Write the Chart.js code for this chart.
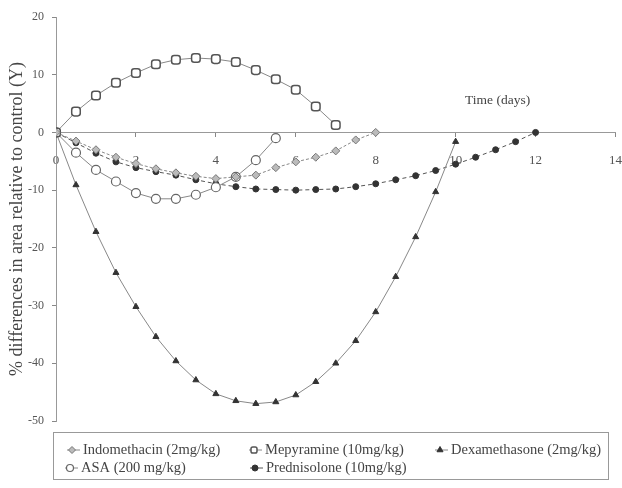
<!DOCTYPE html>
<html>
<head>
<meta charset="utf-8">
<script src="https://cdn.jsdelivr.net/npm/chart.js@4.4.0/dist/chart.umd.min.js"></script>
<style>
  html, body { margin: 0; padding: 0; background: #fff; }
  #wrap { width: 622px; height: 488px; }
</style>
</head>
<body>
<div id="wrap"><canvas id="chart" width="622" height="488"></canvas></div>
<script>
// Tempo (dias) de cada série
const daysIndo = [0, 0.5, 1, 1.5, 2, 2.5, 3, 3.5, 4, 4.5, 5, 5.5, 6, 6.5, 7, 7.5, 8];
const daysMepy = [0, 0.5, 1, 1.5, 2, 2.5, 3, 3.5, 4, 4.5, 5, 5.5, 6, 6.5, 7];
const daysDexa = [0, 0.5, 1, 1.5, 2, 2.5, 3, 3.5, 4, 4.5, 5, 5.5, 6, 6.5, 7, 7.5, 8, 8.5, 9, 9.5, 10];
const daysAsa = [0, 0.5, 1, 1.5, 2, 2.5, 3, 3.5, 4, 4.5, 5, 5.5];
const daysPred = [0, 0.5, 1, 1.5, 2, 2.5, 3, 3.5, 4, 4.5, 5, 5.5, 6, 6.5, 7, 7.5, 8, 8.5, 9, 9.5, 10, 10.5, 11, 11.5, 12];

// % de diferença na área relativa ao controle
const indomethacin = [0, -1.5, -3.0, -4.3, -5.4, -6.3, -7.0, -7.6, -8.0, -7.7, -7.4, -6.1, -5.1, -4.3, -3.2, -1.3, 0];
const mepyramine = [0, 3.6, 6.4, 8.6, 10.3, 11.8, 12.6, 12.9, 12.7, 12.2, 10.8, 9.2, 7.4, 4.5, 1.3];
const dexamethasone = [0, -9.1, -17.2, -24.3, -30.2, -35.4, -39.6, -42.9, -45.3, -46.5, -47.0, -46.7, -45.5, -43.2, -40.0, -36.1, -31.1, -25.0, -18.1, -10.3, -1.6];
const asa = [0, -3.5, -6.5, -8.5, -10.5, -11.5, -11.5, -10.8, -9.5, -7.7, -4.8, -1.0];
const prednisolone = [0, -1.8, -3.6, -5.1, -6.1, -6.8, -7.4, -8.2, -8.9, -9.4, -9.8, -9.9, -10.0, -9.9, -9.8, -9.4, -8.9, -8.2, -7.5, -6.6, -5.5, -4.3, -3.0, -1.6, 0];

const seriesLabels = ['Indomethacin (2mg/kg)', 'Mepyramine (10mg/kg)', 'Dexamethasone (2mg/kg)', 'ASA (200 mg/kg)', 'Prednisolone (10mg/kg)'];
const yTicks = [-50, -40, -30, -20, -10, 0, 10, 20];
const xTicks = [0, 2, 4, 6, 8, 10, 12, 14];

const serif = '"Liberation Serif", "DejaVu Serif", serif';

function toPoints(xs, ys) {
    return xs.map((x, i) => ({ x: x, y: ys[i] }));
}

// Legenda desenhada à mão, em grade como no original
const legendBox = {
    id: 'legendBox',
    afterDraw(chart) {
        const ctx = chart.ctx;
        ctx.save();
        ctx.strokeStyle = '#999';
        ctx.lineWidth = 1;
        ctx.strokeRect(53.5, 432.5, 555, 47);
        const slots = [[72, 450], [254, 450], [440, 450], [70, 468], [255, 468]];
        chart.data.datasets.forEach((ds, i) => {
            const [x, y] = slots[i];
            ctx.strokeStyle = ds.borderColor;
            ctx.lineWidth = 1;
            ctx.setLineDash([]);
            ctx.beginPath();
            ctx.moveTo(x - 5, y);
            ctx.lineTo(x + 8, y);
            ctx.stroke();
            ctx.fillStyle = ds.pointBackgroundColor;
            ctx.strokeStyle = ds.pointBorderColor;
            ctx.lineWidth = ds.pointBorderWidth;
            Chart.helpers.drawPoint(ctx, {
                pointStyle: ds.pointStyle,
                radius: Math.min(ds.pointRadius, 3.5),
                rotation: 0,
                borderWidth: ds.pointBorderWidth
            }, x, y);
            ctx.fillStyle = '#444';
            ctx.font = '14.5px ' + serif;
            ctx.textBaseline = 'middle';
            ctx.fillText(ds.label, x + 11, y);
        });
        ctx.restore();
    }
};

// Texto "Time (days)" sobre o eixo x
const axisNote = {
    id: 'axisNote',
    afterDraw(chart) {
        const ctx = chart.ctx;
        const xs = chart.scales.x;
        const ys = chart.scales.y;
        ctx.save();
        ctx.fillStyle = '#444';
        ctx.font = '13.5px ' + serif;
        ctx.textAlign = 'center';
        ctx.textBaseline = 'middle';
        ctx.fillText('Time (days)', xs.getPixelForValue(11.05), ys.getPixelForValue(5.6));
        ctx.restore();
    }
};

const ctx = document.getElementById('chart').getContext('2d');
new Chart(ctx, {
    type: 'line',
    data: {
        datasets: [
            {
                label: seriesLabels[0],
                data: toPoints(daysIndo, indomethacin),
                borderColor: '#888',
                borderWidth: 1,
                borderDash: [3, 2],
                pointStyle: 'rectRot',
                pointRadius: 4,
                pointBackgroundColor: '#bbb',
                pointBorderColor: '#777',
                pointBorderWidth: 1
            },
            {
                label: seriesLabels[1],
                data: toPoints(daysMepy, mepyramine),
                borderColor: '#888',
                borderWidth: 1,
                pointStyle: 'rectRounded',
                pointRadius: 5,
                pointBackgroundColor: '#fff',
                pointBorderColor: '#555',
                pointBorderWidth: 1.5
            },
            {
                label: seriesLabels[2],
                data: toPoints(daysDexa, dexamethasone),
                borderColor: '#888',
                borderWidth: 1,
                pointStyle: 'triangle',
                pointRadius: 3.5,
                pointBackgroundColor: '#333',
                pointBorderColor: '#333',
                pointBorderWidth: 1
            },
            {
                label: seriesLabels[3],
                data: toPoints(daysAsa, asa),
                borderColor: '#888',
                borderWidth: 1,
                pointStyle: 'circle',
                pointRadius: 4.5,
                pointBackgroundColor: '#fff',
                pointBorderColor: '#666',
                pointBorderWidth: 1.2
            },
            {
                label: seriesLabels[4],
                data: toPoints(daysPred, prednisolone),
                borderColor: '#555',
                borderWidth: 1,
                borderDash: [4, 3],
                pointStyle: 'circle',
                pointRadius: 3,
                pointBackgroundColor: '#333',
                pointBorderColor: '#333',
                pointBorderWidth: 1
            }
        ]
    },
    options: {
        responsive: false,
        animation: false,
        layout: { padding: { left: 0, right: 6, top: 17, bottom: 67 } },
        elements: { line: { tension: 0 } },
        plugins: {
            legend: { display: false },
            tooltip: { enabled: false }
        },
        scales: {
            x: {
                type: 'linear',
                position: { y: 0 },
                min: 0,
                max: 14,
                afterBuildTicks: s => { s.ticks = xTicks.map(v => ({ value: v })); },
                afterFit: s => { s.paddingLeft = 0; s.paddingRight = 0; },
                grid: { drawOnChartArea: false, tickLength: 4, color: '#888' },
                border: { color: '#999' },
                ticks: { color: '#555', font: { family: serif, size: 13 }, padding: 16 }
            },
            y: {
                type: 'linear',
                min: -50,
                max: 20,
                afterBuildTicks: s => { s.ticks = yTicks.map(v => ({ value: v })); },
                afterFit: s => { s.width = 56; },
                grid: { drawOnChartArea: false, tickLength: 4, color: '#888' },
                border: { color: '#999' },
                ticks: { color: '#555', font: { family: serif, size: 12 }, padding: 8 },
                title: {
                    display: true,
                    text: '% differences in area relative to control (Y)',
                    color: '#444',
                    font: { family: serif, size: 18 },
                    padding: { top: 6, bottom: 0 }
                }
            }
        }
    },
    plugins: [legendBox, axisNote]
});
</script>
</body>
</html>
